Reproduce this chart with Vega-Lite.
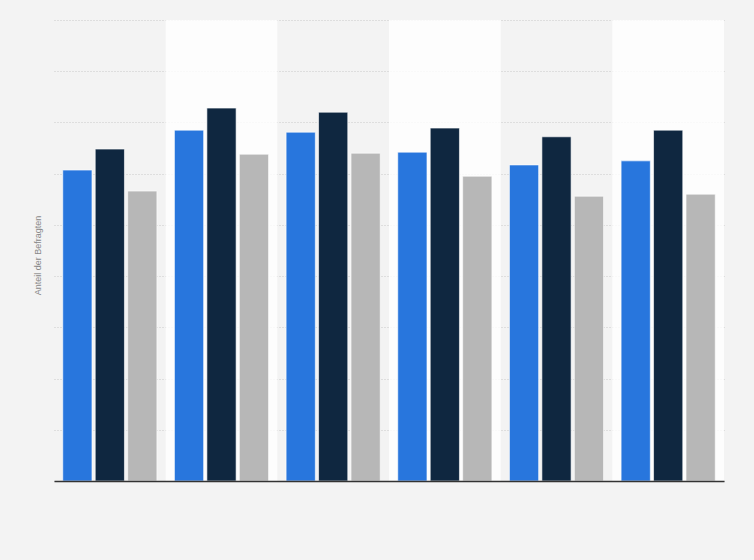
{
  "$schema": "https://vega.github.io/schema/vega-lite/v6.json",
  "width": 670,
  "height": 461,
  "autosize": {"type": "none"},
  "padding": {"left": 54, "top": 20, "right": 30, "bottom": 79},
  "background": "#f3f3f3",
  "data": {
    "values": [
      {"gruppe": "G1", "serie": "A", "wert": 60.7},
      {"gruppe": "G1", "serie": "B", "wert": 64.8},
      {"gruppe": "G1", "serie": "C", "wert": 56.6},
      {"gruppe": "G2", "serie": "A", "wert": 68.5},
      {"gruppe": "G2", "serie": "B", "wert": 72.8},
      {"gruppe": "G2", "serie": "C", "wert": 63.8},
      {"gruppe": "G3", "serie": "A", "wert": 68.1},
      {"gruppe": "G3", "serie": "B", "wert": 72.0},
      {"gruppe": "G3", "serie": "C", "wert": 64.0},
      {"gruppe": "G4", "serie": "A", "wert": 64.2},
      {"gruppe": "G4", "serie": "B", "wert": 68.9},
      {"gruppe": "G4", "serie": "C", "wert": 59.5},
      {"gruppe": "G5", "serie": "A", "wert": 61.7},
      {"gruppe": "G5", "serie": "B", "wert": 67.2},
      {"gruppe": "G5", "serie": "C", "wert": 55.6},
      {"gruppe": "G6", "serie": "A", "wert": 62.5},
      {"gruppe": "G6", "serie": "B", "wert": 68.5},
      {"gruppe": "G6", "serie": "C", "wert": 56.0}
    ]
  },
  "encoding": {
    "x": {
      "field": "gruppe",
      "type": "nominal",
      "scale": {"paddingInner": 0, "paddingOuter": 0},
      "axis": {
        "title": null,
        "labels": false,
        "ticks": false,
        "domainColor": "#333333",
        "domainWidth": 1.5
      }
    }
  },
  "layer": [
    {
      "mark": {"type": "rect"},
      "encoding": {
        "y": {"datum": 90, "type": "quantitative"},
        "y2": {"datum": 0},
        "fill": {"value": "#ffffff"},
        "opacity": {
          "condition": {
            "test": "indexof(['G2', 'G4', 'G6'], datum.gruppe) >= 0",
            "value": 0.42
          },
          "value": 0
        }
      }
    },
    {
      "mark": {
        "type": "bar",
        "stroke": "#ffffff",
        "strokeOpacity": 0.6,
        "strokeWidth": 1
      },
      "encoding": {
        "xOffset": {
          "field": "serie",
          "type": "nominal",
          "scale": {"paddingInner": 0.1, "paddingOuter": 0.27}
        },
        "y": {
          "field": "wert",
          "type": "quantitative",
          "scale": {"domain": [0, 90], "nice": false},
          "axis": {
            "title": "Anteil der Befragten",
            "titleFont": "Liberation Sans",
            "titleFontSize": 9,
            "titleFontWeight": "normal",
            "titleColor": "#888888",
            "titleX": -12,
            "titleY": 235,
            "values": [0, 10, 20, 30, 40, 50, 60, 70, 80, 90],
            "labels": false,
            "ticks": false,
            "domain": false,
            "grid": true,
            "gridColor": "#c8c8c8",
            "gridDash": [1, 2],
            "gridWidth": 1
          }
        },
        "color": {
          "field": "serie",
          "type": "nominal",
          "scale": {"range": ["#2876dd", "#0f2740", "#b7b7b7"]},
          "legend": null
        }
      }
    }
  ],
  "config": {
    "view": {"stroke": null},
    "font": "Liberation Sans"
  }
}
